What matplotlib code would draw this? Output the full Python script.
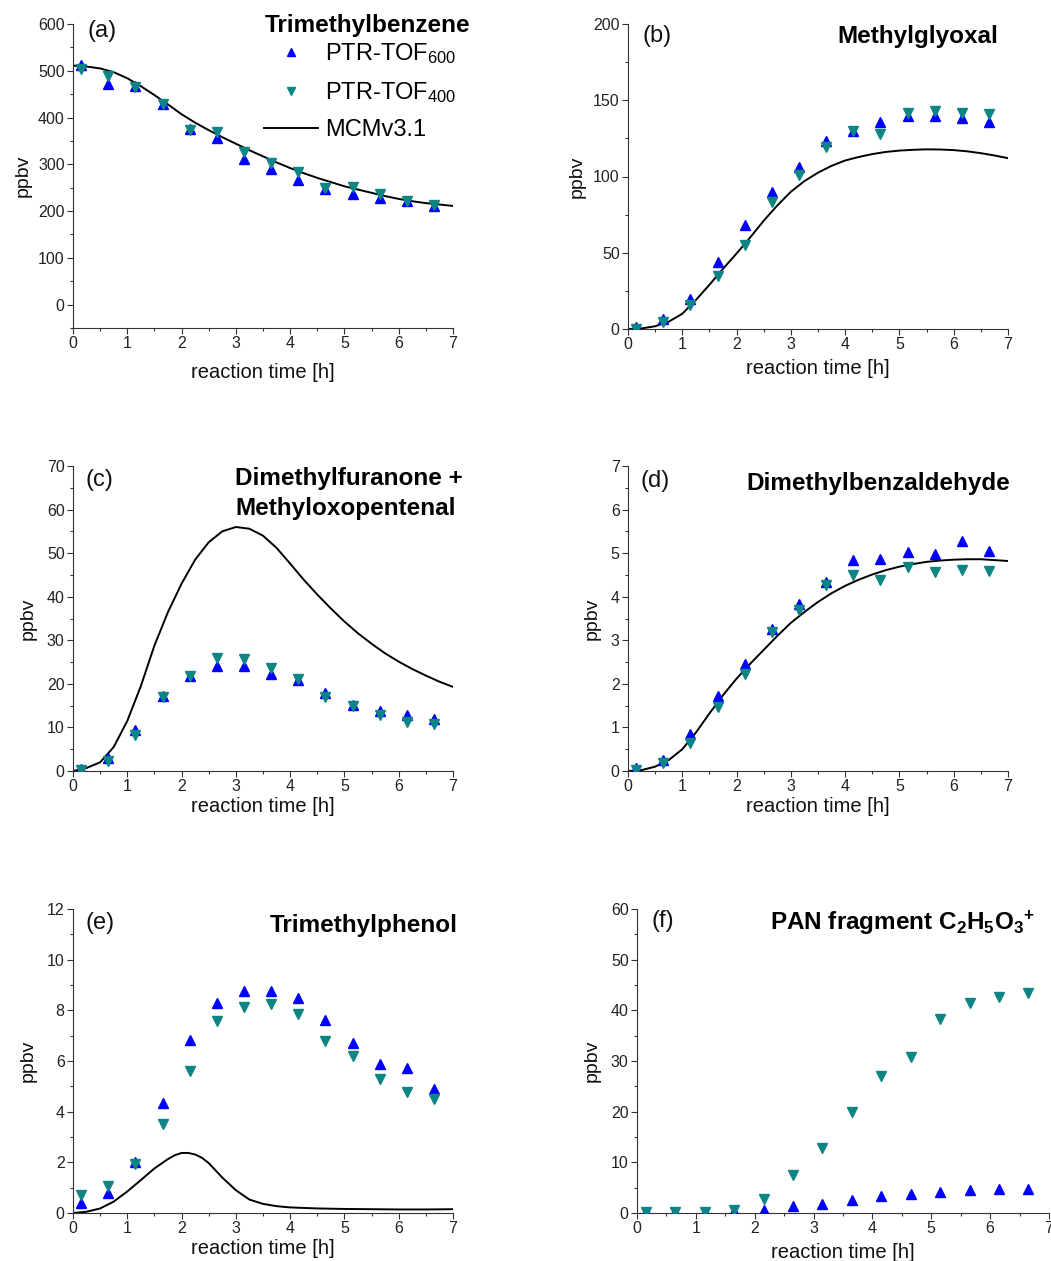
import matplotlib
matplotlib.use("Agg")
import matplotlib.pyplot as plt
from matplotlib.ticker import MultipleLocator

plt.rcParams['font.family'] = ['Liberation Sans', 'DejaVu Sans']
plt.rcParams['mathtext.fontset'] = 'custom'
plt.rcParams['mathtext.rm'] = 'Liberation Sans'
plt.rcParams['mathtext.it'] = 'Liberation Sans:italic'
plt.rcParams['mathtext.bf'] = 'Liberation Sans:bold'

# ---------------- data ----------------
t_meas = [0.15, 0.65, 1.15, 1.65, 2.15, 2.65, 3.15, 3.65, 4.15, 4.65, 5.15, 5.65, 6.15, 6.65]
t_model = [0.0, 0.25, 0.5, 0.75, 1.0, 1.25, 1.5, 1.75, 2.0, 2.25, 2.5, 2.75, 3.0, 3.25, 3.5,
           3.75, 4.0, 4.25, 4.5, 4.75, 5.0, 5.25, 5.5, 5.75, 6.0, 6.25, 6.5, 6.75, 7.0]
t_model_e = [0.0, 0.25, 0.5, 0.75, 1.0, 1.25, 1.5, 1.75, 1.875, 2.0, 2.125, 2.25, 2.375, 2.5,
             2.75, 3.0, 3.25, 3.5, 3.75, 4.0, 4.5, 5.0, 5.5, 6.0, 6.5, 7.0]

# (a) Trimethylbenzene
tmb_600 = [512, 471, 468, 429, 375, 357, 311, 290, 266, 248, 236, 228, 221, 211]
tmb_400 = [504, 489, 465, 429, 374, 369, 327, 302, 283, 249, 251, 237, 222, 213]
tmb_mcm = [511, 509, 505, 497, 484, 467, 448, 428, 407, 389, 373, 358, 344, 330, 317,
           304, 292, 281, 271, 262, 253, 246, 239, 232, 226, 221, 217, 214, 211]

# (b) Methylglyoxal
mgly_600 = [1.3, 6.8, 20, 44, 68, 90, 106, 123, 130, 136, 139.5, 139.5, 138.5, 136]
mgly_400 = [0.2, 4.6, 15.5, 35, 55, 83, 101, 119.5, 130, 128, 141.8, 143, 141.8, 141]
mgly_mcm = [0, 0.4, 1.8, 4.8, 10, 19, 29, 39.5, 49.5, 60, 71, 81, 90, 97, 102.5,
            107, 110.5, 112.8, 114.7, 116.1, 117, 117.5, 117.8, 117.7, 117.3, 116.5, 115.3, 113.8, 112]

# (c) Dimethylfuranone + Methyloxopentenal
dmf_600 = [0.4, 2.9, 9.4, 17.3, 21.9, 24.2, 24.0, 22.3, 20.8, 18.0, 15.2, 13.8, 12.8, 12.0]
dmf_400 = [0.2, 2.3, 8.3, 17.0, 21.8, 26.0, 25.8, 23.7, 21.2, 17.0, 15.0, 12.9, 11.3, 10.7]
dmf_mcm = [0, 0.7, 2.0, 5.5, 11.5, 19.5, 28.8, 36.5, 43, 48.5, 52.5, 55, 56, 55.6, 54.0,
           51.2, 47.6, 43.9, 40.5, 37.3, 34.3, 31.6, 29.2, 27.0, 25.1, 23.4, 21.9, 20.5, 19.3]

# (d) Dimethylbenzaldehyde
dmba_600 = [0.06, 0.25, 0.85, 1.73, 2.45, 3.25, 3.83, 4.34, 4.85, 4.87, 5.02, 4.98, 5.28, 5.04]
dmba_400 = [0.02, 0.18, 0.65, 1.47, 2.22, 3.19, 3.70, 4.26, 4.49, 4.38, 4.68, 4.57, 4.62, 4.59]
dmba_mcm = [0, 0.02, 0.1, 0.25, 0.5, 0.88, 1.32, 1.74, 2.12, 2.46, 2.78, 3.1, 3.4, 3.65, 3.88,
            4.08, 4.25, 4.39, 4.51, 4.61, 4.69, 4.75, 4.8, 4.83, 4.85, 4.86, 4.86, 4.84, 4.82]

# (e) Trimethylphenol
tmp_600 = [0.4, 0.8, 2.0, 4.34, 6.83, 8.3, 8.78, 8.78, 8.5, 7.6, 6.7, 5.9, 5.72, 4.9]
tmp_400 = [0.72, 1.05, 1.93, 3.5, 5.6, 7.58, 8.12, 8.24, 7.86, 6.77, 6.18, 5.3, 4.77, 4.5]
tmp_mcm = [0, 0.05, 0.18, 0.45, 0.85, 1.3, 1.76, 2.13, 2.28, 2.37, 2.37, 2.31, 2.18, 1.97,
           1.4, 0.9, 0.53, 0.36, 0.27, 0.22, 0.18, 0.16, 0.15, 0.14, 0.14, 0.15]

# (f) PAN fragment
pan_600 = [0.1, 0.1, 0.1, 0.3, 0.66, 1.3, 1.84, 2.5, 3.3, 3.8, 4.1, 4.5, 4.7, 4.7]
pan_400 = [0.1, 0.1, 0.1, 0.66, 2.76, 7.56, 12.8, 20.0, 27.1, 30.7, 38.2, 41.4, 42.6, 43.4]

titles = ['Trimethylbenzene', 'Methylglyoxal', 'Dimethylfuranone +\nMethyloxopentenal',
          'Dimethylbenzaldehyde', 'Trimethylphenol',
          r'PAN fragment C$_{\mathbf{2}}$H$_{\mathbf{5}}$O$_{\mathbf{3}}{}^{\mathbf{+}}$']
letters = ['(a)', '(b)', '(c)', '(d)', '(e)', '(f)']

BLUE = '#0000ff'
TEAL = '#0e8585'

W, H = 1051, 1261
fig = plt.figure(figsize=(W / 100, H / 100), dpi=100)

# panel pixel boxes: left, right, top, bottom
boxes = [(73, 453, 24, 328), (628, 1008, 24, 329),
         (73, 453, 466, 771), (628, 1008, 466, 771),
         (73, 453, 909, 1213), (637, 1049, 909, 1213)]

panels = [
    (tmb_600, tmb_400, t_model, tmb_mcm, (-50, 600), 100, 50),
    (mgly_600, mgly_400, t_model, mgly_mcm, (0, 200), 50, 25),
    (dmf_600, dmf_400, t_model, dmf_mcm, (0, 70), 10, 5),
    (dmba_600, dmba_400, t_model, dmba_mcm, (0, 7), 1, 0.5),
    (tmp_600, tmp_400, t_model_e, tmp_mcm, (0, 12), 2, 1),
    (pan_600, pan_400, None, None, (0, 60), 10, 5),
]

ylab_dist = [50, 51, 45, 36, 45, 45]
xlab_dist = [44, 40, 35, 36, 35, 39]
letter_pos = [(0.037, 0.977), (0.037, 0.961), (0.034, 0.954), (0.032, 0.951), (0.034, 0.954), (0.036, 0.961)]

axes = []
for i, (box, pdat) in enumerate(zip(boxes, panels)):
    l, r, tp, bt = box
    ax = fig.add_axes([l / W, 1 - bt / H, (r - l) / W, (bt - tp) / H])
    axes.append(ax)
    d600, d400, tm, mcm, ylim, maj, mnr = pdat
    if mcm is not None:
        ax.plot(tm, mcm, color='black', lw=1.4, zorder=2, label='MCMv3.1',
                solid_joinstyle='round')
    ax.plot(t_meas, d600, ls='none', marker='^', ms=7.6, color=BLUE, mec=BLUE, zorder=3,
            label=r'PTR-TOF$_{600}$')
    ax.plot(t_meas, d400, ls='none', marker='v', ms=7.6, color=TEAL, mec=TEAL, zorder=4,
            label=r'PTR-TOF$_{400}$')
    ax.set_xlim(0, 7)
    ax.set_ylim(*ylim)
    ax.xaxis.set_major_locator(MultipleLocator(1))
    ax.xaxis.set_minor_locator(MultipleLocator(0.5))
    ax.yaxis.set_major_locator(MultipleLocator(maj))
    ax.yaxis.set_minor_locator(MultipleLocator(mnr))
    for s in ['top', 'right']:
        ax.spines[s].set_visible(False)
    for s in ['left', 'bottom']:
        ax.spines[s].set_linewidth(0.8)
        ax.spines[s].set_color('#333333')
    ax.tick_params(which='major', direction='out', length=4, width=0.8, labelsize=11.5,
                   colors='#333333', labelcolor='#222222', pad=2)
    ax.tick_params(which='minor', direction='out', length=2.5, width=0.8, colors='#333333')
    ax.set_xlabel('reaction time [h]', fontsize=14.5, color='#111111')
    ax.set_ylabel('ppbv', fontsize=14, color='#111111')
    ax.xaxis.label.set_va('center')
    ax.yaxis.label.set_va('center')
    wpx = r - l
    hpx = bt - tp
    ax.yaxis.set_label_coords(-ylab_dist[i] / wpx, 0.5)
    ax.xaxis.set_label_coords(0.5, -xlab_dist[i] / hpx)
    ax.text(letter_pos[i][0], letter_pos[i][1], letters[i], transform=ax.transAxes,
            fontsize=17, ha='left', va='center', color='#111111')

TFS = 17.5
# titles
axes[0].text(1.045, 0.974, titles[0], transform=axes[0].transAxes, fontsize=TFS,
             fontweight='bold', ha='right', va='baseline')
axes[1].text(0.974, 0.938, titles[1], transform=axes[1].transAxes, fontsize=TFS,
             fontweight='bold', ha='right', va='baseline')
line1, line2 = titles[2].split('\n')
axes[2].text(0.426, 0.938, line1, transform=axes[2].transAxes, fontsize=TFS,
             fontweight='bold', ha='left', va='baseline')
axes[2].text(0.426, 0.839, line2, transform=axes[2].transAxes, fontsize=TFS,
             fontweight='bold', ha='left', va='baseline')
axes[3].text(1.005, 0.921, titles[3], transform=axes[3].transAxes, fontsize=TFS,
             fontweight='bold', ha='right', va='baseline')
axes[4].text(1.013, 0.924, titles[4], transform=axes[4].transAxes, fontsize=TFS,
             fontweight='bold', ha='right', va='baseline')
axes[5].text(0.966, 0.931, titles[5], transform=axes[5].transAxes, fontsize=TFS,
             fontweight='bold', ha='right', va='baseline')

# legend in panel (a)
h, lab = axes[0].get_legend_handles_labels()
order = [1, 2, 0]
leg = axes[0].legend([h[k] for k in order], [lab[k] for k in order], loc='upper left',
                     bbox_to_anchor=((264 - 73) / 380, (328 - 41) / 304), frameon=False,
                     fontsize=17, handlelength=2.3, handletextpad=0.3, labelspacing=0.6,
                     borderpad=0, borderaxespad=0, markerscale=0.8)

fig.savefig('out.png', dpi=100)
